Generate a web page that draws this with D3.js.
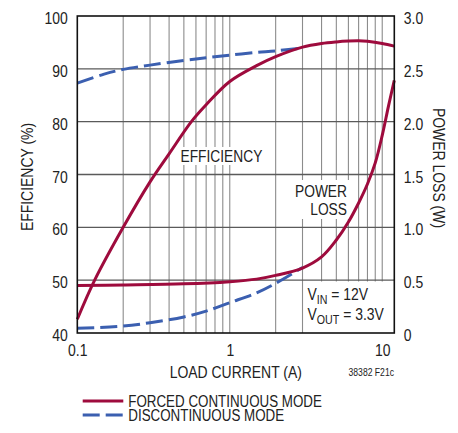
<!DOCTYPE html>
<html>
<head>
<meta charset="utf-8">
<script src="https://cdn.jsdelivr.net/npm/d3@7"></script>
<style>
  html, body { margin: 0; padding: 0; background: #fff; }
  svg text { font-family: 'Liberation Sans', Arial, Helvetica, sans-serif; fill: #222; }
</style>
</head>
<body>
<svg id="chart" width="458" height="433"></svg>
<script>
// ---- data ----
const effTicks = [40, 50, 60, 70, 80, 90, 100];
const lossTicks = [0, 0.5, 1.0, 1.5, 2.0, 2.5, 3.0];
const currentTicks = [0.1, 1, 10];
const gridCurrents = [0.2,0.3,0.4,0.5,0.6,0.7,0.8,0.9,1,2,3,4,5,6,7,8,9,10];

const currentEffFcm = [0.1, 0.13, 0.2, 0.3, 0.4, 0.56, 0.7, 1, 1.5, 2, 3, 4, 5, 6, 7, 8, 10, 12];
const effFcm        = [42.6, 50, 60, 68.6, 73.9, 80, 83.2, 87.6, 90.6, 92.3, 94.1, 94.8, 95.1, 95.25, 95.3, 95.2, 94.8, 94.3];

const currentEffDcm = [0.1, 0.15, 0.2, 0.3, 0.5, 0.7, 1, 1.5, 2, 2.9];
const effDcm        = [87.3, 89.0, 89.9, 90.7, 91.6, 92.1, 92.6, 93.1, 93.4, 93.9];

const currentLossFcm = [0.1, 0.2, 0.5, 1, 1.5, 2, 3, 4, 5, 6, 7, 8, 9, 10, 11, 12];
const lossFcm        = [0.45, 0.455, 0.465, 0.486, 0.51, 0.545, 0.615, 0.72, 0.88, 1.05, 1.23, 1.41, 1.61, 1.87, 2.15, 2.39];

const currentLossDcm = [0.1, 0.2, 0.3, 0.5, 0.7, 1, 1.5, 2, 3];
const lossDcm        = [0.044, 0.066, 0.097, 0.152, 0.207, 0.287, 0.38, 0.47, 0.62];

const RED = "#9e0b3d", BLUE = "#3b5fb0";

// ---- scales ----
const L = 77.3, R = 394.3, T = 16, B = 333;
const x = d3.scaleLog().domain([0.1, 12]).range([L, R]);
const yE = d3.scaleLinear().domain([40, 100]).range([B, T]);
const yP = d3.scaleLinear().domain([0, 3]).range([B, T]);

const svg = d3.select("#chart");

// grid
const g = svg.append("g");
g.selectAll("line.v").data(gridCurrents).join("line")
  .attr("x1", d => x(d)).attr("x2", d => x(d)).attr("y1", T).attr("y2", B)
  .attr("stroke", "#8c8c8c").attr("stroke-width", 1.1);
g.selectAll("line.h").data(effTicks.slice(1, -1)).join("line")
  .attr("x1", L).attr("x2", R).attr("y1", d => yE(d)).attr("y2", d => yE(d))
  .attr("stroke", "#5a5a5a").attr("stroke-width", 1.3);

// white label backgrounds
function whiteBox(x0, y0, x1, y1) {
  svg.append("rect").attr("x", x0).attr("y", y0).attr("width", x1 - x0).attr("height", y1 - y0).attr("fill", "#fff");
}
whiteBox(178, 147, 261, 165);
whiteBox(291, 180, 349, 219);
whiteBox(304, 281.5, R, B);

// labels in plot (narrowed individually below)
svg.append("text").attr("class", "narrow").attr("x", 180.5).attr("y", 161.7).attr("font-size", 16.8).text("EFFICIENCY");
svg.append("text").attr("class", "narrow").attr("x", 347).attr("y", 196.7).attr("font-size", 16.8).attr("text-anchor", "end").text("POWER");
svg.append("text").attr("class", "narrow").attr("x", 347).attr("y", 215).attr("font-size", 16.8).attr("text-anchor", "end").text("LOSS");

// V_IN / V_OUT note: condensed with a horizontal scale (has subscripts)
function note(y, sub, rest) {
  const t = svg.append("text").attr("transform", `translate(307.5,${y}) scale(0.82,1)`).attr("font-size", 17);
  t.append("tspan").text("V");
  t.append("tspan").attr("font-size", 13).attr("dy", 4).text(sub);
  t.append("tspan").attr("dy", -4).text(rest);
}
note(300, "IN", " = 12V");
note(320, "OUT", " = 3.3V");

// curves
const lineE = d3.line().x(d => x(d[0])).y(d => yE(d[1])).curve(d3.curveCatmullRom.alpha(0.5));
const lineP = d3.line().x(d => x(d[0])).y(d => yP(d[1])).curve(d3.curveCatmullRom.alpha(0.5));
const zip = (a, b) => a.map((v, i) => [v, b[i]]);

svg.append("path").attr("d", lineE(zip(currentEffDcm, effDcm)))
  .attr("fill", "none").attr("stroke", BLUE).attr("stroke-width", 3).attr("stroke-dasharray", "17,6");
svg.append("path").attr("d", lineP(zip(currentLossDcm, lossDcm)))
  .attr("fill", "none").attr("stroke", BLUE).attr("stroke-width", 3).attr("stroke-dasharray", "17,6");
svg.append("path").attr("d", lineE(zip(currentEffFcm, effFcm)))
  .attr("fill", "none").attr("stroke", RED).attr("stroke-width", 3);
svg.append("path").attr("d", lineP(zip(currentLossFcm, lossFcm)))
  .attr("fill", "none").attr("stroke", RED).attr("stroke-width", 3);

// frame
svg.append("rect").attr("x", L).attr("y", T).attr("width", R - L).attr("height", B - T)
  .attr("fill", "none").attr("stroke", "#111").attr("stroke-width", 1.6);

// axes
const axL = svg.append("g").attr("transform", `translate(${L},0)`)
  .call(d3.axisLeft(yE).tickValues(effTicks).tickSize(0).tickPadding(9.5).tickFormat(d3.format("d")));
const axR = svg.append("g").attr("transform", `translate(${R},0)`)
  .call(d3.axisRight(yP).tickValues(lossTicks).tickSize(0).tickPadding(9.5).tickFormat(d => d === 0 ? "0" : d.toFixed(1)));
const axB = svg.append("g").attr("transform", `translate(0,${B})`)
  .call(d3.axisBottom(x).tickValues(currentTicks).tickSize(0).tickPadding(11).tickFormat(d => String(d)));
[axL, axR, axB].forEach(a => {
  a.select(".domain").remove();
  a.selectAll("text").attr("class", "narrow").attr("font-size", 17).attr("fill", "#222");
  a.attr("font-family", null).attr("font-size", null);
});
axL.selectAll("text").attr("dy", "0.45em");
axR.selectAll("text").attr("dy", "0.45em");

// axis titles
svg.append("text").attr("class", "narrow").attr("transform", "translate(33,177) rotate(-90)").attr("text-anchor", "middle")
  .attr("font-size", 17).text("EFFICIENCY (%)");
svg.append("text").attr("class", "narrow").attr("transform", "translate(433,168) rotate(90)").attr("text-anchor", "middle")
  .attr("font-size", 17).text("POWER LOSS (W)");
svg.append("text").attr("class", "narrow").attr("x", (L + R) / 2).attr("y", 378.3).attr("text-anchor", "middle")
  .attr("font-size", 17).text("LOAD CURRENT (A)");
svg.append("text").attr("class", "narrow").attr("x", 394).attr("y", 376).attr("text-anchor", "end")
  .attr("font-size", 10.5).text("38382 F21c");

// legend
const legendLabels = ["FORCED CONTINUOUS MODE", "DISCONTINUOUS MODE"];
const legendColors = [RED, BLUE];
const legendDash = [null, "17,6"];
const legendY = [401, 415];
legendLabels.forEach((label, i) => {
  svg.append("line").attr("x1", 82.7).attr("x2", 123.3).attr("y1", legendY[i]).attr("y2", legendY[i])
    .attr("stroke", legendColors[i]).attr("stroke-width", 3).attr("stroke-dasharray", legendDash[i]);
  svg.append("text").attr("class", "narrow").attr("x", 128.3).attr("y", legendY[i] + 6)
    .attr("font-size", 16.3).text(label);
});

// condensed look: narrow single-run texts horizontally
svg.selectAll("text.narrow").each(function() {
  const len = this.getComputedTextLength();
  d3.select(this).attr("textLength", len * 0.82).attr("lengthAdjust", "spacingAndGlyphs");
});
</script>
</body>
</html>
